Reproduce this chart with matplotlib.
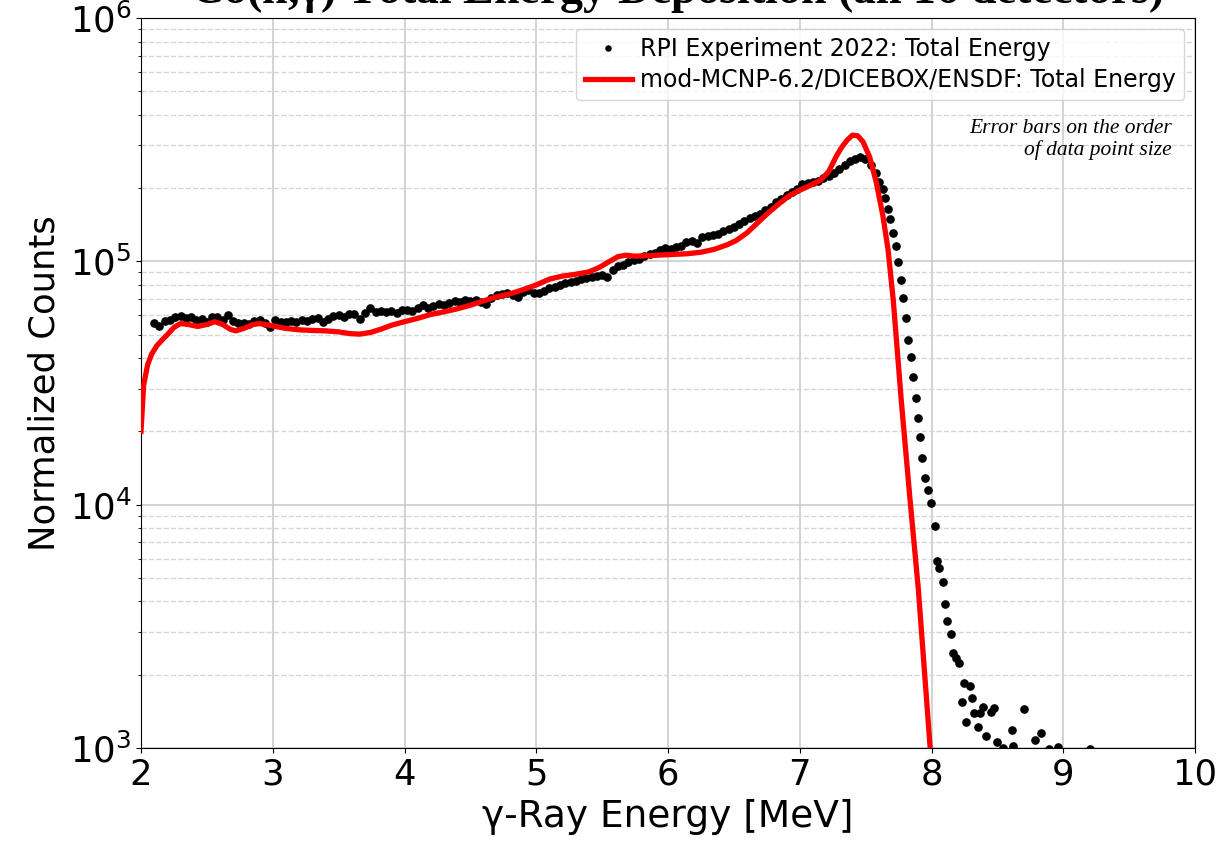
import numpy as np
import matplotlib.pyplot as plt
from matplotlib.ticker import LogLocator

# Experiment, dense part of the spectrum (bins of 0.04 MeV starting at 2.10 MeV)
exp_start = 2.10
exp_step = 0.04
exp_counts_dense = [
    55.6, 54.0, 56.8, 57.5, 58.8, 59.5, 58.5, 59.0, 57.3, 58.0,
    56.5, 58.8, 59.2, 57.5, 60.0, 57.0, 55.8, 56.0, 55.5, 56.6,
    57.2, 56.0, 53.5, 57.2, 56.5, 56.2, 57.0, 56.4, 57.5, 57.0,
    57.8, 58.6, 56.5, 58.2, 59.5, 60.2, 59.3, 61.0, 60.5, 58.0,
    61.5, 64.0, 62.0, 62.5, 61.8, 62.5, 61.5, 62.8, 63.0, 62.5,
    64.5, 66.0, 64.0, 65.5, 66.8, 66.0, 67.5, 68.5, 67.8, 69.4,
    68.6, 69.5, 68.0, 67.0, 71.0, 72.8, 73.5, 74.0, 73.0, 71.5,
    74.5, 76.0, 74.0, 73.8, 75.5, 77.5, 78.5, 80.0, 81.5, 82.5,
    83.0, 84.5, 85.5, 86.5, 87.0, 88.0, 86.5, 92.0, 95.5, 97.0,
    99.5, 101.0, 102.5, 105.0, 107.0, 108.5, 111.0, 113.0, 112.0, 114.5,
    116.0, 120.0, 121.5, 118.5, 125.5, 127.0, 128.5, 130.0, 133.0, 136.0,
    139.0, 142.0, 146.5, 150.0, 153.0, 157.0, 162.0, 168.0, 175.0, 181.0,
    188.0, 193.0, 199.0, 207.0, 210.0, 211.0, 214.0, 219.0, 225.0, 231.0,
    240.0, 250.0, 258.0, 264.0, 269.0,
]

# Experiment, fall-off and tail (read point by point)
exp_energy_tail = [
    7.495, 7.54, 7.58, 7.605, 7.63, 7.65, 7.667, 7.685, 7.705, 7.73,
    7.746, 7.768, 7.786, 7.806, 7.821, 7.844, 7.859, 7.882, 7.897, 7.912,
    7.928, 7.950, 7.973, 7.994, 8.024, 8.039, 8.057, 8.085, 8.102, 8.12,
    8.146, 8.163, 8.186, 8.209, 8.229, 8.247, 8.262, 8.292, 8.31, 8.323,
    8.353, 8.368, 8.389, 8.414, 8.452, 8.477, 8.495, 8.54, 8.609, 8.621,
    8.702, 8.786, 8.829, 8.894, 8.958, 9.203,
]
exp_counts_tail = [
    263, 249, 231, 212, 198, 182, 164, 149, 131, 116,
    99, 84, 70.6, 58.5, 47.5, 40.5, 33.5, 27.4, 22.7, 19.0,
    15.5, 12.9, 11.5, 10.2, 8.2, 5.88, 5.5, 4.82, 3.91, 3.32,
    2.94, 2.45, 2.35, 2.24, 1.55, 1.85, 1.28, 1.80, 1.60, 1.39,
    1.22, 1.39, 1.48, 1.12, 1.41, 1.46, 1.06, 1.0, 1.19, 1.02,
    1.44, 1.08, 1.15, 0.995, 1.01, 0.99,
]

# Simulation (mod-MCNP-6.2/DICEBOX/ENSDF)
sim_energy = [
    2.00, 2.02, 2.05, 2.08, 2.12, 2.16, 2.20, 2.25, 2.30, 2.36,
    2.43, 2.50, 2.56, 2.62, 2.68, 2.72, 2.78, 2.85, 2.90, 2.96,
    3.02, 3.10, 3.20, 3.30, 3.40, 3.50, 3.58, 3.66, 3.74, 3.82,
    3.90, 4.00, 4.10, 4.20, 4.30, 4.40, 4.50, 4.60, 4.70, 4.80,
    4.90, 5.00, 5.10, 5.20, 5.30, 5.40, 5.48, 5.55, 5.62, 5.68,
    5.75, 5.85, 5.95, 6.05, 6.15, 6.25, 6.35, 6.45, 6.52, 6.60,
    6.68, 6.76, 6.84, 6.92, 7.00, 7.08, 7.16, 7.22, 7.28, 7.32,
    7.36, 7.40, 7.44, 7.48, 7.53, 7.58, 7.63, 7.67, 7.71, 7.77,
    7.837, 7.90, 7.99, 8.01,
]
sim_counts = [
    20.0, 31.0, 37.5, 41.5, 45.0, 47.5, 50.0, 53.5, 55.5, 55.0,
    54.0, 55.0, 56.5, 55.0, 52.5, 51.8, 53.0, 55.0, 55.5, 54.8,
    54.0, 53.0, 52.3, 52.0, 51.8, 51.3, 50.5, 50.2, 51.0, 52.6,
    54.6, 56.5, 58.3, 60.5, 62.0, 63.8, 66.0, 68.8, 71.5, 73.5,
    76.5, 80.0, 84.5, 87.0, 88.5, 90.5, 94.5, 99.5, 104.5, 106.0,
    105.0, 105.5, 106.2, 106.8, 107.5, 109.0, 112.0, 117.0, 122.0, 131.0,
    144.0, 158.0, 172.0, 186.0, 196.0, 205.0, 216.0, 234.0, 272.0, 295.0,
    315.0, 330.0, 328.0, 310.0, 269.0, 212.0, 155.0, 112.0, 69.0, 27.0,
    10.5, 4.5, 1.0, 0.8,
]

exp_energy = list(exp_start + exp_step * np.arange(len(exp_counts_dense))) + exp_energy_tail
exp_counts = np.array(exp_counts_dense + exp_counts_tail) * 1e3
sim_counts = np.array(sim_counts) * 1e3

fig = plt.figure(figsize=(12.29, 8.42), dpi=100)
ax = fig.add_axes([141/1229, 1 - 748/842, 1054/1229, 730/842])

ax.plot(exp_energy, exp_counts, 'o', color='k', ms=5.2, ls='none',
        label='RPI Experiment 2022: Total Energy', zorder=3)
ax.plot(sim_energy, sim_counts, color='red', lw=3.8,
        label='mod-MCNP-6.2/DICEBOX/ENSDF: Total Energy', zorder=4)

ax.set_yscale('log')
ax.set_xlim(2, 10)
ax.set_ylim(1e3, 1e6)
ax.yaxis.set_minor_locator(LogLocator(base=10, subs=np.arange(2, 10)))

ax.grid(which='major', color='#c8c8c8', lw=1.1)
ax.grid(which='minor', axis='y', color='#d6d6d6', ls='--', lw=1.0)
ax.set_axisbelow(True)

ax.tick_params(axis='both', which='major', labelsize=25.5)
ax.set_xlabel('γ-Ray Energy [MeV]', fontsize=27, labelpad=5)
ax.set_ylabel('Normalized Counts', fontsize=25.5, labelpad=6)

ax.legend(loc='upper right', fontsize=17, markerscale=0.7,
          handlelength=2.0, handletextpad=0.35, borderaxespad=0.45,
          borderpad=0.35, labelspacing=0.3)

ax.text(0.978, 0.862, 'Error bars on the order\nof data point size',
        transform=ax.transAxes, ha='right', va='top', fontsize=15.5,
        family='Liberation Serif', style='italic', linespacing=1.15)

# title sits mostly above the top edge, as in the original figure
fig.text(654/1229, 1 - 3/842, r'$^{\mathbf{59}}$Co(n,γ) Total Energy Deposition (all 16 detectors)',
         ha='center', va='baseline', fontsize=33, family='Liberation Serif',
         weight='bold')

fig.savefig('out.png', dpi=100)
